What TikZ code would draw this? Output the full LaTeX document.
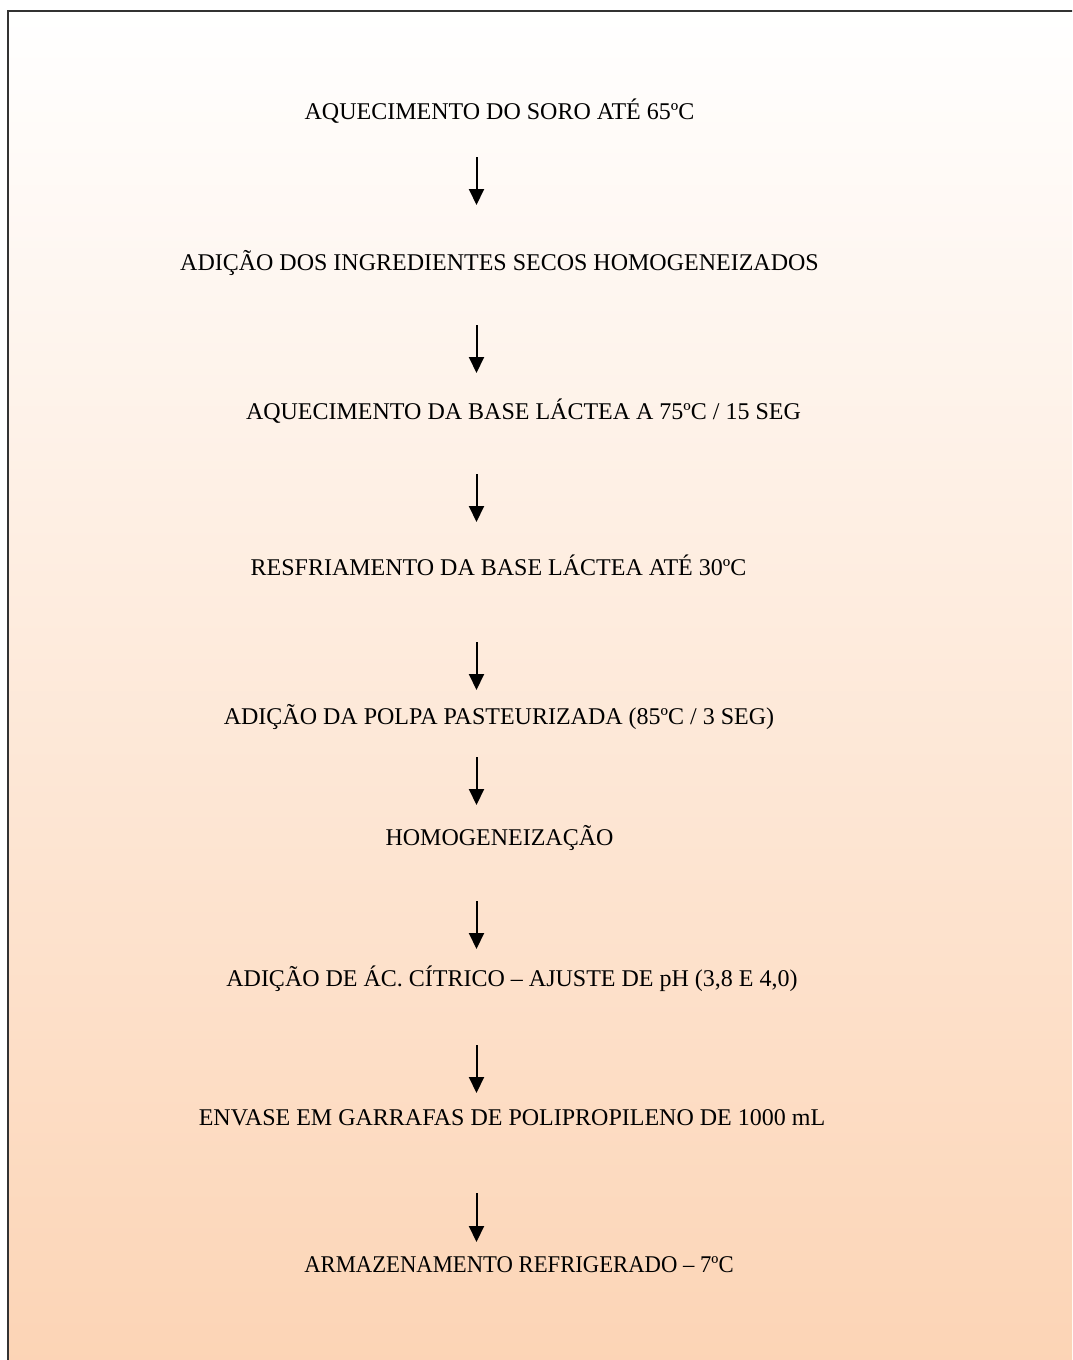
\documentclass[tikz,border=0pt]{standalone}
\usepackage{fontspec}
\setmainfont{Liberation Serif}
\usetikzlibrary{arrows.meta}
\definecolor{peach}{RGB}{252,212,181}
\definecolor{frame}{RGB}{51,51,51}
\tikzset{etapa/.style={inner sep=0pt, font=\fontsize{12pt}{14pt}\selectfont}}
\begin{document}
\begin{tikzpicture}[x=0.5pt, y=-0.5pt, >={Triangle[width=7.5pt,length=8pt]}]
\useasboundingbox (0,0) rectangle (1072,1360);
\begin{scope}
\clip (0,0) rectangle (1072,1360);
\shade[top color=white, bottom color=peach] (7.5,10.5) rectangle (1080,1370);
\draw[frame, line width=1pt] (7.5,1370)--(7.5,10.5)--(1080,10.5);
\end{scope}

\node[etapa] (s1) at (499.5,111) {AQUECIMENTO DO SORO ATÉ 65ºC};
\node[etapa] (s2) at (499.5,263) {ADIÇÃO DOS INGREDIENTES SECOS HOMOGENEIZADOS};
\node[etapa] (s3) at (523.5,411) {AQUECIMENTO DA BASE LÁCTEA A 75ºC / 15 SEG};
\node[etapa] (s4) at (498.5,565) {RESFRIAMENTO DA BASE LÁCTEA ATÉ 30ºC};
\node[etapa] (s5) at (499,717) {ADIÇÃO DA POLPA PASTEURIZADA (85ºC / 3 SEG)};
\node[etapa] (s6) at (499.5,838) {HOMOGENEIZAÇÃO};
\node[etapa] (s7) at (512,979) {ADIÇÃO DE ÁC. CÍTRICO – AJUSTE DE pH (3,8 E 4,0)};
\node[etapa] (s8) at (512,1118) {ENVASE EM GARRAFAS DE POLIPROPILENO DE 1000 mL};
\node[etapa, xscale=0.945] (s9) at (519,1265) {ARMAZENAMENTO REFRIGERADO – 7ºC};

\coordinate (t1) at (476.5,157);  \coordinate (h1) at (476.5,205);
\coordinate (t2) at (476.5,325);  \coordinate (h2) at (476.5,373);
\coordinate (t3) at (476.5,474);  \coordinate (h3) at (476.5,522);
\coordinate (t4) at (476.5,642);  \coordinate (h4) at (476.5,690);
\coordinate (t5) at (476.5,757);  \coordinate (h5) at (476.5,805);
\coordinate (t6) at (476.5,901);  \coordinate (h6) at (476.5,949);
\coordinate (t7) at (476.5,1045); \coordinate (h7) at (476.5,1093);
\coordinate (t8) at (476.5,1193); \coordinate (h8) at (476.5,1242);

\draw[->, line width=1pt](t1)--(h1);
\draw[->, line width=1pt](t2)--(h2);
\draw[->, line width=1pt](t3)--(h3);
\draw[->, line width=1pt](t4)--(h4);
\draw[->, line width=1pt](t5)--(h5);
\draw[->, line width=1pt](t6)--(h6);
\draw[->, line width=1pt](t7)--(h7);
\draw[->, line width=1pt](t8)--(h8);

\end{tikzpicture}
\end{document}
